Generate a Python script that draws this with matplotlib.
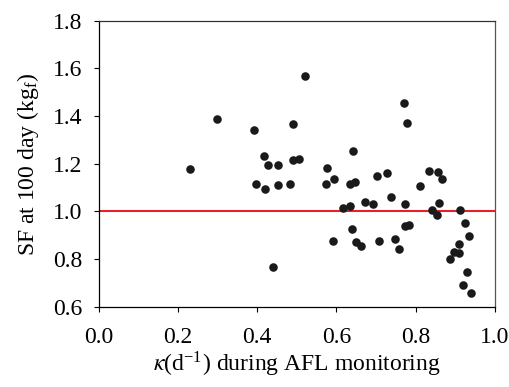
import matplotlib
matplotlib.use('Agg')
import matplotlib.pyplot as plt

plt.rcParams['font.family'] = ['Liberation Serif', 'DejaVu Serif']
plt.rcParams['mathtext.fontset'] = 'stix'

# kappa (1/d) during AFL monitoring vs SF at 100 day (kgf)
kappa = [0.231, 0.298, 0.392, 0.489, 0.521, 0.417, 0.426, 0.453, 0.489, 0.505,
         0.577, 0.397, 0.419, 0.453, 0.483, 0.573, 0.439,
         0.593, 0.642, 0.635, 0.647, 0.701, 0.727, 0.770, 0.779, 0.737, 0.671,
         0.693, 0.616, 0.634, 0.773, 0.810, 0.833, 0.855, 0.865, 0.859, 0.842,
         0.853, 0.911, 0.924, 0.935, 0.909, 0.897, 0.908, 0.886, 0.929, 0.918,
         0.939, 0.773, 0.783, 0.640, 0.592, 0.650, 0.662, 0.707, 0.748, 0.758]
sf = [1.179, 1.389, 1.340, 1.365, 1.569, 1.233, 1.193, 1.193, 1.214, 1.220,
      1.181, 1.115, 1.095, 1.110, 1.115, 1.115, 0.768,
      1.134, 1.254, 1.113, 1.124, 1.148, 1.160, 1.455, 1.369, 1.060, 1.039,
      1.030, 1.015, 1.024, 1.030, 1.105, 1.169, 1.166, 1.134, 1.034, 1.006,
      0.985, 1.006, 0.950, 0.895, 0.864, 0.831, 0.825, 0.800, 0.744, 0.690,
      0.656, 0.940, 0.944, 0.925, 0.874, 0.870, 0.856, 0.874, 0.884, 0.841]
ref_level = 1.0

fig = plt.figure(figsize=(5.09, 3.87), dpi=100)
ax = fig.add_axes([0.194, 0.2075, 0.7785, 0.739])

ax.scatter(kappa, sf, s=38, color='#1a1a1a', zorder=3, linewidths=0)
ax.axhline(ref_level, color='#e8202a', lw=1.5, zorder=2)

ax.set_xlim(0.0, 1.0)
ax.set_ylim(0.6, 1.8)
ax.set_xticks([0.0, 0.2, 0.4, 0.6, 0.8, 1.0])
ax.set_yticks([0.6, 0.8, 1.0, 1.2, 1.4, 1.6, 1.8])
ax.xaxis.set_major_formatter(plt.FormatStrFormatter('%.1f'))
ax.yaxis.set_major_formatter(plt.FormatStrFormatter('%.1f'))
ax.tick_params(direction='out', length=3.5, width=0.8, labelsize=17)
ax.tick_params(axis='x', pad=11)
ax.tick_params(axis='y', pad=8)

for side in ['left', 'bottom', 'top', 'right']:
    ax.spines[side].set_linewidth(0.9)
ax.spines['right'].set_color('#555555')
ax.spines['top'].set_color('#333333')

ax.set_xlabel(r'$\kappa$(d$^{\mathregular{-1}}$) during AFL monitoring', fontsize=17, labelpad=1)
ax.set_ylabel(r'SF at 100 day (kg$_{\mathregular{f}}$)', fontsize=17, labelpad=9)

plt.savefig('out.png', dpi=100)
